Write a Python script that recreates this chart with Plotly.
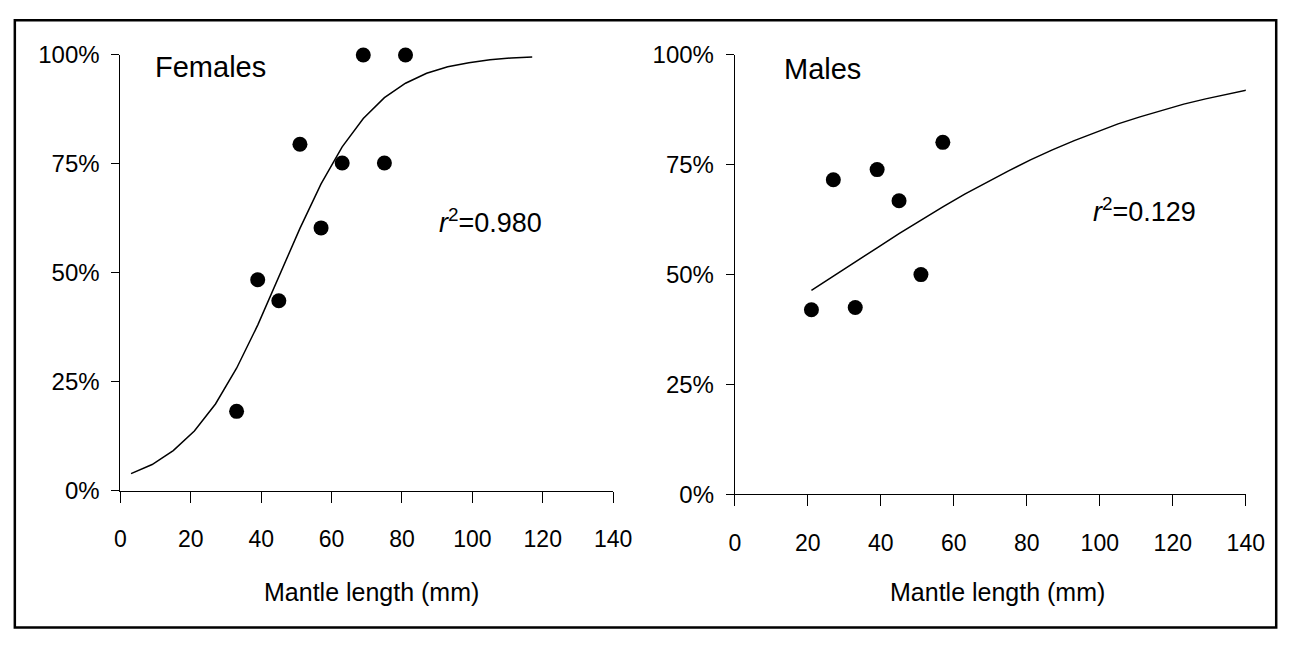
import plotly.graph_objects as go

# Maturity data by mantle-length class (mm) and fitted logistic ogives
fem_len = [33, 39, 45, 51, 57, 63, 69, 75, 81]
fem_mature = [0.182, 0.484, 0.436, 0.795, 0.603, 0.752, 1.0, 0.752, 1.0]
fem_fit_len = [3, 9, 15, 21, 27, 33, 39, 45, 51, 57, 63, 69, 75, 81, 87, 93, 99, 105, 111, 117]
fem_fit = [0.039, 0.060, 0.092, 0.137, 0.199, 0.281, 0.380, 0.490, 0.602, 0.704,
           0.789, 0.854, 0.902, 0.935, 0.958, 0.973, 0.982, 0.989, 0.993, 0.995]

male_len = [21, 27, 33, 39, 45, 51, 57]
male_mature = [0.420, 0.716, 0.425, 0.739, 0.668, 0.500, 0.801]
male_fit_len = [21, 27, 33, 39, 45, 51, 57, 63, 69, 75, 81, 87, 93, 99, 105, 111, 117, 123, 129, 135, 141]
male_fit = [0.464, 0.497, 0.529, 0.561, 0.593, 0.624, 0.654, 0.683, 0.710, 0.736, 0.761,
            0.784, 0.805, 0.824, 0.843, 0.859, 0.874, 0.888, 0.900, 0.911, 0.921]

x_ticks = [0, 20, 40, 60, 80, 100, 120, 140]
y_ticks = [0, 0.25, 0.5, 0.75, 1.0]
y_tick_text = ["0%", "25%", "50%", "75%", "100%"]

panel_titles = ["Females", "Males"]
r2_text = ["<i>r</i><sup>2</sup>=0.980", "<i>r</i><sup>2</sup>=0.129"]
x_title = "Mantle length (mm)"

FONT = "Liberation Sans, Arial, sans-serif"
W, H = 1306, 651


def px(x):
    return x / W


def py(y):
    return 1 - y / H


fig = go.Figure()

# Females
fig.add_trace(go.Scatter(x=fem_fit_len, y=fem_fit, mode="lines",
                         line=dict(color="black", width=1.5),
                         xaxis="x", yaxis="y", showlegend=False))
fig.add_trace(go.Scatter(x=fem_len, y=fem_mature, mode="markers",
                         marker=dict(color="black", size=15),
                         cliponaxis=False, xaxis="x", yaxis="y", showlegend=False))
# Males
fig.add_trace(go.Scatter(x=male_fit_len, y=male_fit, mode="lines",
                         line=dict(color="black", width=1.5),
                         xaxis="x2", yaxis="y2", showlegend=False))
fig.add_trace(go.Scatter(x=male_len, y=male_mature, mode="markers",
                         marker=dict(color="black", size=15),
                         cliponaxis=False, xaxis="x2", yaxis="y2", showlegend=False))

xaxis_common = dict(range=[0, 140], tickvals=x_ticks, showline=True, linecolor="black",
                    linewidth=1, ticks="outside", ticklen=11, tickcolor="black",
                    tickwidth=1, showgrid=False, zeroline=False,
                    tickfont=dict(family=FONT, size=23, color="black"),
                    ticklabelstandoff=17)
yaxis_common = dict(range=[0, 1], tickvals=y_ticks, ticktext=y_tick_text, showline=True,
                    linecolor="black", linewidth=1, ticks="outside", ticklen=8,
                    tickcolor="black", tickwidth=1, showgrid=False, zeroline=False,
                    tickfont=dict(family=FONT, size=24, color="black"),
                    ticklabelstandoff=7)

fig.update_layout(
    width=W, height=H,
    margin=dict(l=0, r=0, t=0, b=0),
    paper_bgcolor="white", plot_bgcolor="white",
    xaxis=dict(domain=[px(116.7), px(619)], anchor="y", **xaxis_common),
    yaxis=dict(domain=[py(497.3), py(42.7)], anchor="x", **yaxis_common),
    xaxis2=dict(domain=[px(743), px(1264)], anchor="y2", **xaxis_common),
    yaxis2=dict(domain=[py(501), py(42.7)], anchor="x2", **yaxis_common),
)

annotations = [
    dict(text=panel_titles[0], x=px(150), y=py(55), xanchor="left", yanchor="middle",
         font=dict(size=29)),
    dict(text=panel_titles[1], x=px(791), y=py(57), xanchor="left", yanchor="middle",
         font=dict(size=29)),
    dict(text=r2_text[0], x=px(439), y=py(216), xanchor="left", yanchor="middle",
         font=dict(size=27)),
    dict(text=r2_text[1], x=px(1106), y=py(204), xanchor="left", yanchor="middle",
         font=dict(size=27)),
    dict(text=x_title, x=px(373), y=py(603), xanchor="center", yanchor="middle",
         font=dict(size=25)),
    dict(text=x_title, x=px(1011), y=py(603), xanchor="center", yanchor="middle",
         font=dict(size=25)),
]
for a in annotations:
    a.update(xref="paper", yref="paper", showarrow=False)
    a["font"].update(family=FONT, color="black")
fig.update_layout(annotations=annotations)

# Frame around the whole figure
fig.add_shape(type="rect", xref="paper", yref="paper",
              x0=px(9), x1=px(1295), y0=py(640), y1=py(6.5),
              line=dict(color="black", width=2.5))

# Place the figure flush with the page edges
fig.write_html("out.html", post_script="document.body.style.margin='0';")
